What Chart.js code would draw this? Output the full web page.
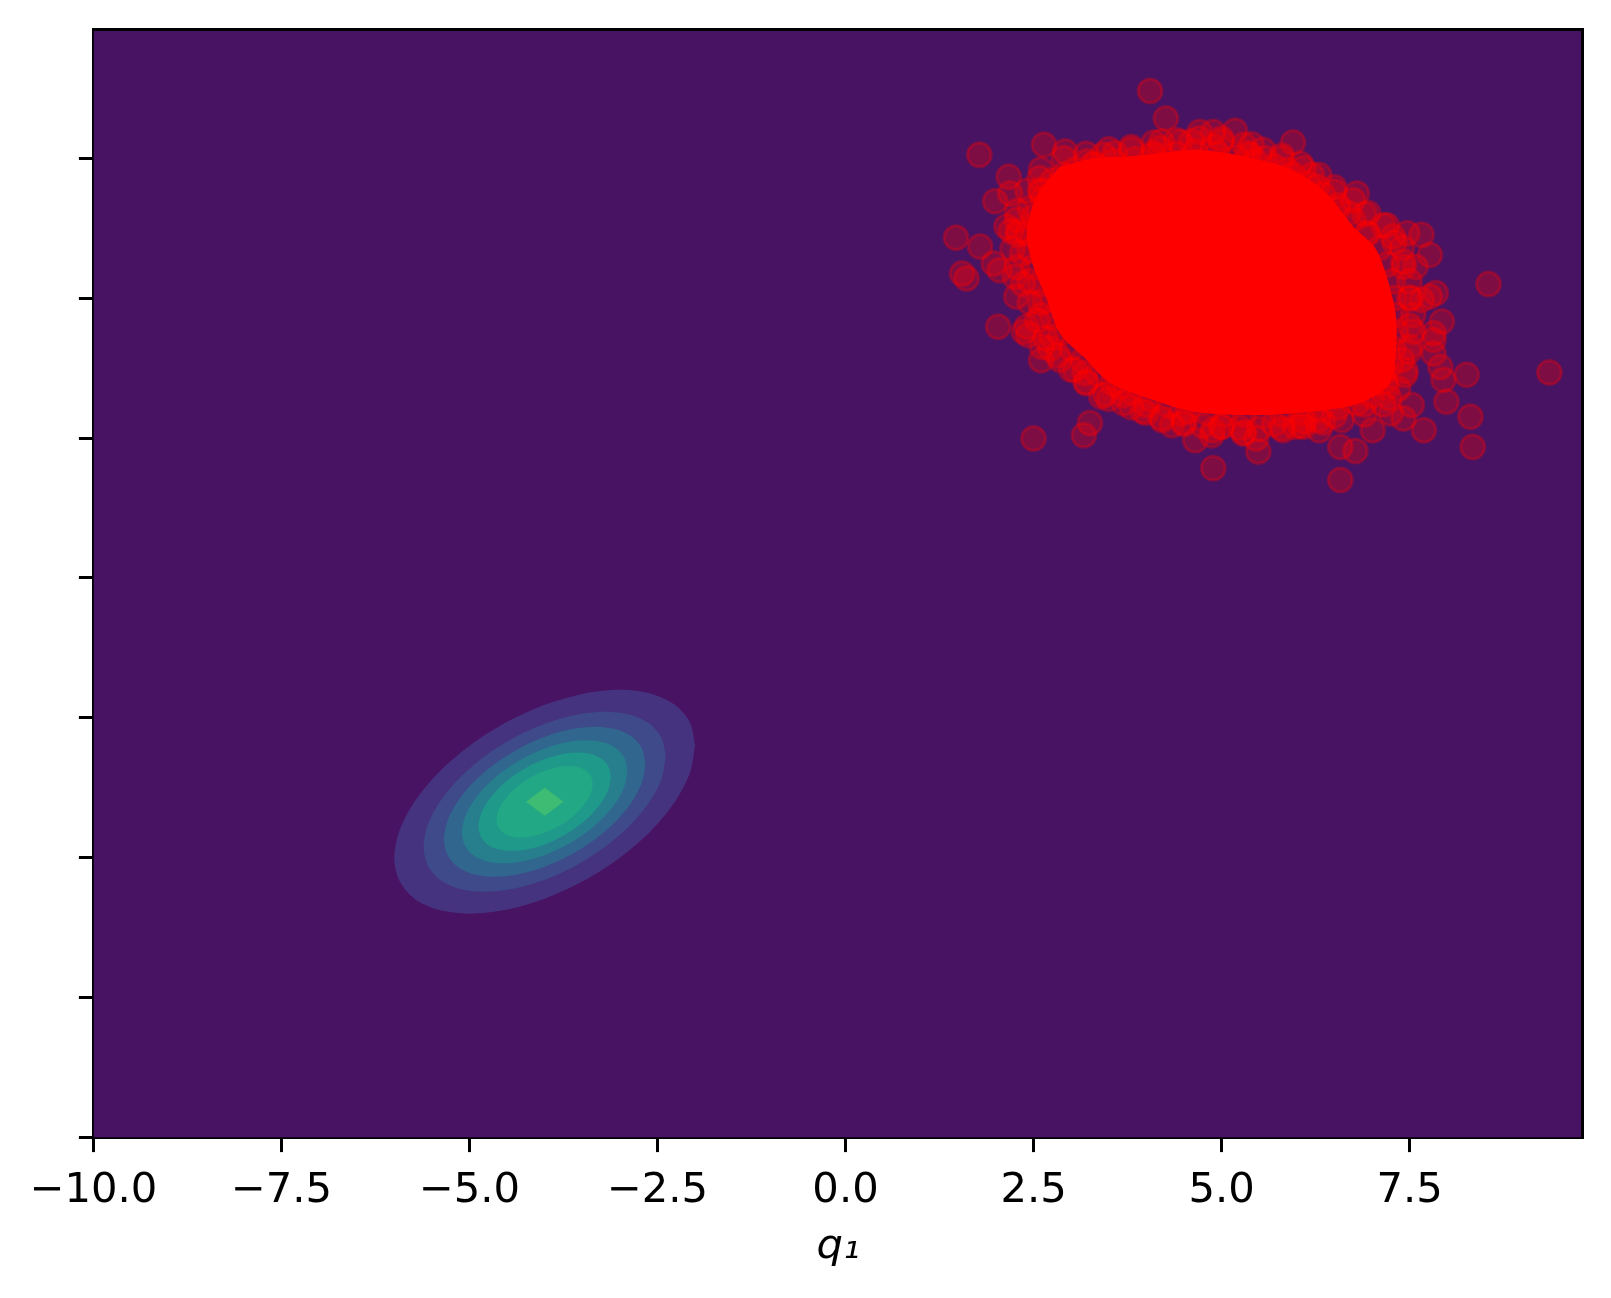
<!DOCTYPE html>
<html>
<head>
<meta charset="utf-8">
<script src="https://cdn.jsdelivr.net/npm/chart.js@4.4.1/dist/chart.umd.min.js"></script>
<style>
html,body{margin:0;padding:0;background:#ffffff;}
canvas{display:block;}
</style>
</head>
<body>
<canvas id="c" width="1611" height="1298"></canvas>
<script>
// ---------- axes ----------
const gridMin = -10;
const gridMax = 9.8;
const xTicks = [-10, -7.5, -5, -2.5, 0, 2.5, 5, 7.5];
const xTickLabels = ['\u221210.0', '\u22127.5', '\u22125.0', '\u22122.5', '0.0', '2.5', '5.0', '7.5'];
const yTicks = [-10, -7.5, -5, -2.5, 0, 2.5, 5, 7.5];
const xTitle = 'q\u2081';

// ---------- filled contour bands (outer -> inner), lowest band covers the grid ----------
const bandColors = ['#471362', '#46337f', '#3e4a89', '#31668e', '#277f8e', '#1f998a', '#22a884', '#3fbc73'];
const band0X = [gridMin, gridMax, gridMax, gridMin];
const band0Y = [gridMin, gridMin, gridMax, gridMax];
const band1X = [-2, -2.068, -2.268, -2.586, -3, -3.482, -4, -4.518, -5, -5.414, -5.732, -5.932, -6, -5.932, -5.732, -5.414, -5, -4.518, -4, -3.482, -3, -2.586, -2.268, -2.068, -2];
const band1Y = [-3, -2.586, -2.268, -2.068, -2, -2.068, -2.268, -2.586, -3, -3.482, -4, -4.518, -5, -5.414, -5.732, -5.932, -6, -5.932, -5.732, -5.414, -5, -4.518, -4, -3.482, -3];
const band2X = [-2.39, -2.445, -2.606, -2.862, -3.195, -3.583, -4, -4.417, -4.805, -5.138, -5.394, -5.555, -5.61, -5.555, -5.394, -5.138, -4.805, -4.417, -4, -3.583, -3.195, -2.862, -2.606, -2.445, -2.39];
const band2Y = [-3.195, -2.862, -2.606, -2.445, -2.39, -2.445, -2.606, -2.862, -3.195, -3.583, -4, -4.417, -4.805, -5.138, -5.394, -5.555, -5.61, -5.555, -5.394, -5.138, -4.805, -4.417, -4, -3.583, -3.195];
const band3X = [-2.66, -2.706, -2.84, -3.052, -3.33, -3.653, -4, -4.347, -4.67, -4.948, -5.16, -5.294, -5.34, -5.294, -5.16, -4.948, -4.67, -4.347, -4, -3.653, -3.33, -3.052, -2.84, -2.706, -2.66];
const band3Y = [-3.33, -3.052, -2.84, -2.706, -2.66, -2.706, -2.84, -3.052, -3.33, -3.653, -4, -4.347, -4.67, -4.948, -5.16, -5.294, -5.34, -5.294, -5.16, -4.948, -4.67, -4.347, -4, -3.653, -3.33];
const band4X = [-2.9, -2.937, -3.047, -3.222, -3.45, -3.715, -4, -4.285, -4.55, -4.778, -4.953, -5.063, -5.1, -5.063, -4.953, -4.778, -4.55, -4.285, -4, -3.715, -3.45, -3.222, -3.047, -2.937, -2.9];
const band4Y = [-3.45, -3.222, -3.047, -2.937, -2.9, -2.937, -3.047, -3.222, -3.45, -3.715, -4, -4.285, -4.55, -4.778, -4.953, -5.063, -5.1, -5.063, -4.953, -4.778, -4.55, -4.285, -4, -3.715, -3.45];
const band5X = [-3.12, -3.15, -3.238, -3.378, -3.56, -3.772, -4, -4.228, -4.44, -4.622, -4.762, -4.85, -4.88, -4.85, -4.762, -4.622, -4.44, -4.228, -4, -3.772, -3.56, -3.378, -3.238, -3.15, -3.12];
const band5Y = [-3.56, -3.378, -3.238, -3.15, -3.12, -3.15, -3.238, -3.378, -3.56, -3.772, -4, -4.228, -4.44, -4.622, -4.762, -4.85, -4.88, -4.85, -4.762, -4.622, -4.44, -4.228, -4, -3.772, -3.56];
const band6X = [-3.36, -3.382, -3.446, -3.547, -3.68, -3.834, -4, -4.166, -4.32, -4.453, -4.554, -4.618, -4.64, -4.618, -4.554, -4.453, -4.32, -4.166, -4, -3.834, -3.68, -3.547, -3.446, -3.382, -3.36];
const band6Y = [-3.68, -3.547, -3.446, -3.382, -3.36, -3.382, -3.446, -3.547, -3.68, -3.834, -4, -4.166, -4.32, -4.453, -4.554, -4.618, -4.64, -4.618, -4.554, -4.453, -4.32, -4.166, -4, -3.834, -3.68];
const band7X = [-3.75, -4, -4.25, -4];
const band7Y = [-4, -3.75, -4, -4.25];

// ---------- red samples ----------
// outline of the saturated (fully overlapped) core of the sample cloud
const coreX = [2.85, 3.30, 3.74, 4.18, 4.63, 5.07, 5.51, 5.95, 6.40, 6.75, 7.06, 7.28, 7.33, 7.24, 6.84, 6.40, 5.95, 5.29, 4.63, 4.09, 3.52, 3.21, 2.85, 2.68, 2.50, 2.41, 2.55];
const coreY = [7.35, 7.50, 7.53, 7.59, 7.65, 7.59, 7.47, 7.29, 6.87, 6.28, 5.86, 4.97, 4.37, 3.48, 3.12, 3.00, 2.94, 2.91, 2.97, 3.18, 3.48, 3.89, 4.37, 4.97, 5.56, 6.16, 6.85];
// individual circles around the core
const outlierX = [
  4.05, 4.26, 1.78, 2.64, 5.18, 5.95, 2.17, 1.99, 2.19, 1.47, 1.79, 1.55, 1.61, 2.03, 2.27, 2.41, 2.58, 2.92, 4.71, 4.89,
  5.58, 6.09, 6.27, 6.55, 6.69, 6.80, 2.05, 1.97, 2.28, 3.58, 3.43, 4.45, 5.38, 5.87, 4.18, 3.21, 2.59,
  2.60, 3.18, 3.40, 2.50, 3.25, 3.17, 3.70, 4.00, 4.34, 4.65, 4.89, 4.87, 5.49, 5.46, 5.98, 6.30, 6.58, 6.78, 6.58, 7.01,
  7.42, 7.53, 7.69, 7.99, 8.26, 8.31, 8.34, 9.36, 8.55, 7.85, 7.77, 7.66, 7.47, 7.93, 7.91, 7.44, 7.42, 7.77, 7.82, 6.28,
  5.82, 7.25, 7.23, 7.50, 7.58, 7.15, 2.29, 2.61, 3.05, 3.64, 4.21, 4.46, 2.37,
  4.09, 4.89, 5.34, 6.93, 7.28, 7.66, 7.82, 7.82, 7.95, 6.09, 5.29, 4.89, 2.72, 2.43, 2.25, 2.14, 2.59,
  4.00, 4.50, 5.00, 5.30, 5.70, 6.10, 6.50, 6.90, 7.20, 7.40, 7.50, 7.50, 7.40, 7.20, 6.90, 6.50, 6.20, 5.80, 5.40, 5.00,
  4.60, 4.20, 3.80, 3.30, 2.90, 2.60, 2.45, 2.30, 2.35, 2.45, 2.60, 2.75, 2.85, 3.20, 3.50, 3.80
];
const outlierY = [
  8.70, 8.21, 7.56, 7.74, 7.99, 7.78, 7.17, 6.73, 6.87, 6.08, 5.92, 5.44, 5.35, 4.49, 5.03, 4.49, 7.14, 7.62, 7.97, 7.97,
  7.50, 7.32, 6.99, 6.66, 6.52, 6.87, 5.50, 5.62, 6.40, 7.59, 7.56, 7.79, 7.56, 7.29, 7.68, 7.44, 4.91,
  3.89, 3.66, 3.24, 2.49, 2.77, 2.55, 3.27, 3.09, 2.73, 2.46, 1.96, 2.55, 2.26, 2.49, 2.70, 2.64, 2.34, 2.27, 1.75, 2.64,
  2.85, 3.09, 2.64, 3.15, 3.63, 2.88, 2.34, 3.67, 5.25, 5.09, 5.77, 6.13, 6.16, 4.58, 3.77, 3.63, 5.56, 5.03, 4.25, 2.82,
  2.64, 2.94, 3.21, 4.13, 5.56, 3.66, 6.13, 4.13, 3.72, 3.42, 2.82, 2.94, 4.40,
  7.59, 7.71, 7.59, 6.16, 6.10, 4.97, 4.37, 4.01, 3.54, 2.70, 2.58, 2.64, 4.10, 4.34, 5.38, 6.28, 6.93,
  2.95, 2.75, 2.70, 2.60, 2.75, 2.80, 2.90, 3.10, 3.40, 3.90, 4.50, 5.00, 5.90, 6.30, 6.50, 6.90, 7.20, 7.50, 7.75, 7.85,
  7.80, 7.80, 7.65, 7.40, 7.20, 6.90, 6.60, 6.20, 5.80, 5.30, 4.70, 4.30, 3.90, 3.50, 3.20, 3.05
];
// circles forming the scalloped rim of the core (inner and outer ring)
const edgeX = [2.75, 3.05, 3.30, 3.55, 3.85, 4.10, 4.40, 4.65, 4.95, 5.20, 5.45, 5.70, 5.95, 6.15, 6.35, 6.55, 6.75, 6.95, 7.10, 7.20,
  7.28, 7.30, 7.32, 7.32, 7.28, 7.25, 7.18, 7.00, 6.80, 6.55, 6.30, 6.05, 5.80, 5.55, 5.30, 5.05, 4.80, 4.55, 4.30, 4.05,
  3.80, 3.55, 3.35, 3.15, 3.00, 2.85, 2.75, 2.65, 2.58, 2.50, 2.45, 2.42, 2.50, 2.62];
const edgeY = [7.10, 7.30, 7.38, 7.45, 7.48, 7.55, 7.58, 7.62, 7.58, 7.52, 7.45, 7.35, 7.20, 7.05, 6.85, 6.60, 6.40, 6.15, 5.90, 5.60,
  5.30, 5.00, 4.70, 4.40, 4.10, 3.80, 3.50, 3.25, 3.12, 3.05, 3.00, 2.95, 2.92, 2.90, 2.92, 2.92, 2.95, 2.98, 3.08, 3.20,
  3.32, 3.48, 3.65, 3.88, 4.10, 4.37, 4.65, 4.95, 5.25, 5.55, 5.85, 6.15, 6.45, 6.78];
const rimX = [2.60, 2.90, 3.20, 3.50, 3.80, 4.10, 4.40, 4.70, 5.00, 5.30, 5.55, 5.80, 6.05, 6.30, 6.50, 6.75, 6.95, 7.15, 7.30, 7.42,
  7.50, 7.52, 7.55, 7.55, 7.50, 7.45, 7.35, 7.15, 6.90, 6.60, 6.35, 6.05, 5.80, 5.50, 5.25, 5.00, 4.75, 4.50, 4.20, 3.95,
  3.70, 3.45, 3.20, 3.00, 2.82, 2.66, 2.55, 2.45, 2.36, 2.28, 2.22, 2.20, 2.28, 2.42];
const rimY = [7.30, 7.50, 7.58, 7.66, 7.70, 7.78, 7.82, 7.85, 7.80, 7.74, 7.65, 7.55, 7.40, 7.20, 6.98, 6.75, 6.52, 6.30, 6.00, 5.65,
  5.30, 5.00, 4.70, 4.40, 4.05, 3.70, 3.38, 3.10, 2.92, 2.82, 2.78, 2.72, 2.68, 2.66, 2.68, 2.70, 2.72, 2.78, 2.86, 2.98,
  3.12, 3.28, 3.48, 3.72, 3.98, 4.28, 4.60, 4.92, 5.25, 5.55, 5.88, 6.20, 6.55, 6.92];

// ---------- build datasets ----------
function pts(xs, ys) { return xs.map((x, i) => ({ x: x, y: ys[i] })); }
const bandXs = [band0X, band1X, band2X, band3X, band4X, band5X, band6X, band7X];
const bandYs = [band0Y, band1Y, band2Y, band3Y, band4Y, band5Y, band6Y, band7Y];

const sampleStyle = {
  showLine: false,
  pointRadius: 12,
  pointBorderWidth: 3,
  pointBackgroundColor: 'rgba(255,0,0,0.3)',
  pointBorderColor: 'rgba(255,0,0,0.3)'
};
const datasets = [];
datasets.push(Object.assign({ label: 'samples', data: pts(outlierX, outlierY), order: 0 }, sampleStyle));
datasets.push(Object.assign({ label: 'samples (rim)', data: pts(edgeX, edgeY), order: 0 }, sampleStyle));
datasets.push(Object.assign({ label: 'samples (outer rim)', data: pts(rimX, rimY), order: 0 }, sampleStyle));
datasets.push({
  label: 'core',
  data: pts(coreX.concat([coreX[0]]), coreY.concat([coreY[0]])),
  showLine: true,
  borderWidth: 0,
  borderColor: 'rgba(0,0,0,0)',
  backgroundColor: '#ff0000',
  fill: 'shape',
  tension: 0.3,
  pointRadius: 0,
  order: 1
});
for (let b = bandXs.length - 1; b >= 0; b--) {
  datasets.push({
    label: 'band' + b,
    data: pts(bandXs[b], bandYs[b]),
    showLine: true,
    borderWidth: 0,
    borderColor: 'rgba(0,0,0,0)',
    backgroundColor: bandColors[b],
    fill: 'shape',
    tension: (b === 0 || b === 7) ? 0 : 0.3,
    pointRadius: 0,
    order: 2 + (bandXs.length - 1 - b)
  });
}

const frame = {
  id: 'frame',
  afterDraw(chart) {
    const a = chart.chartArea, ctx = chart.ctx;
    ctx.save();
    ctx.strokeStyle = '#000';
    ctx.lineWidth = 3;
    ctx.beginPath();
    ctx.moveTo(a.left - 1.5, a.top);
    ctx.lineTo(a.right, a.top);
    ctx.lineTo(a.right, a.bottom + 1.5);
    ctx.stroke();
    ctx.restore();
  }
};

const fontTick = { family: 'DejaVu Sans', size: 41.7 };

new Chart(document.getElementById('c'), {
  type: 'line',
  data: { datasets: datasets },
  plugins: [frame],
  options: {
    responsive: false,
    animation: false,
    devicePixelRatio: 1,
    events: [],
    layout: { padding: { top: 29.5, right: 28.5, left: 0, bottom: 0 } },
    plugins: { legend: { display: false }, tooltip: { enabled: false } },
    scales: {
      x: {
        type: 'linear',
        min: gridMin,
        max: gridMax,
        z: 1,
        afterBuildTicks(s) { s.ticks = xTicks.map(v => ({ value: v })); },
        afterFit(s) { s.height = 160.5; },
        grid: { display: true, drawOnChartArea: false, drawTicks: true, tickLength: 14.6, tickWidth: 3, tickColor: '#000' },
        border: { display: true, color: '#000', width: 3 },
        ticks: {
          autoSkip: false, maxRotation: 0, minRotation: 0, padding: 13.7,
          color: '#000', font: fontTick,
          callback(v) { const i = xTicks.indexOf(v); return i >= 0 ? xTickLabels[i] : ''; }
        },
        title: {
          display: true, text: xTitle, color: '#000',
          font: { family: 'DejaVu Sans', size: 41.7, style: 'italic' },
          padding: { top: 0, bottom: 26 }
        }
      },
      y: {
        type: 'linear',
        min: gridMin,
        max: gridMax,
        z: 1,
        afterBuildTicks(s) { s.ticks = yTicks.map(v => ({ value: v })); },
        afterFit(s) { s.width = 93.5; },
        grid: { display: true, drawOnChartArea: false, drawTicks: true, tickLength: 14.6, tickWidth: 3, tickColor: '#000' },
        border: { display: true, color: '#000', width: 3 },
        ticks: { display: false }
      }
    }
  }
});
</script>
</body>
</html>
